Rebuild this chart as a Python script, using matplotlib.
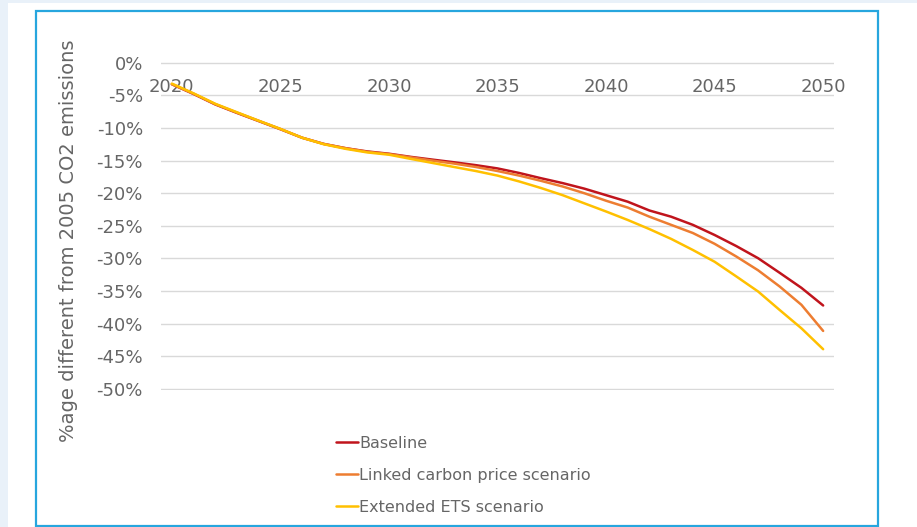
import matplotlib
matplotlib.use("Agg")
import matplotlib.pyplot as plt
from matplotlib.patches import Rectangle
from matplotlib.ticker import FuncFormatter

# values (% change vs 2005 CO2 emissions)
years = list(range(2020, 2051))
baseline = [-3.3, -4.8, -6.4, -7.7, -8.95, -10.2, -11.5, -12.45, -13.1, -13.6,
            -13.95, -14.43, -14.85, -15.26, -15.7, -16.2, -16.9, -17.7, -18.45, -19.3,
            -20.3, -21.3, -22.65, -23.6, -24.85, -26.4, -28.1, -29.95, -32.2, -34.5,
            -37.2]
linked = [-3.3, -4.75, -6.35, -7.65, -8.9, -10.15, -11.5, -12.45, -13.1, -13.65,
          -14.0, -14.5, -15.0, -15.46, -15.98, -16.6, -17.3, -18.1, -18.97, -20.0,
          -21.15, -22.2, -23.6, -24.85, -26.1, -27.75, -29.7, -31.8, -34.3, -37.1,
          -41.1]
extended = [-3.2, -4.7, -6.3, -7.6, -8.9, -10.15, -11.5, -12.5, -13.2, -13.75,
            -14.1, -14.74, -15.36, -15.98, -16.6, -17.3, -18.2, -19.2, -20.3, -21.55,
            -22.8, -24.1, -25.5, -27.0, -28.7, -30.5, -32.75, -35.05, -37.9, -40.7,
            -43.9]
series_names = ["Baseline", "Linked carbon price scenario", "Extended ETS scenario"]
series_colors = ["#c0141c", "#ed7d31", "#ffc000"]
x_ticks = [2020, 2025, 2030, 2035, 2040, 2045, 2050]
y_ticks = list(range(0, -55, -5))

plt.rcParams["font.family"] = ["DejaVu Sans"]
TXT = "#666666"

W, H = 917, 527
fig = plt.figure(figsize=(W / 100, H / 100), dpi=100)
fig.patch.set_facecolor("white")

# page background strips + blue chart frame
fig.add_artist(Rectangle((0, 0), 8 / W, 1, transform=fig.transFigure,
                         facecolor="#e9f1f9", edgecolor="none"))
fig.add_artist(Rectangle((0, 1 - 3 / H), 1, 3 / H, transform=fig.transFigure,
                         facecolor="#e9f1f9", edgecolor="none"))
fig.add_artist(Rectangle((36 / W, 1 - 526 / H), (878 - 36) / W, (526 - 11) / H,
                         transform=fig.transFigure, facecolor="none",
                         edgecolor="#27a6de", linewidth=1.6))

# axes box padded by 1px so the 0% and -50% gridlines are not clipped
ax = fig.add_axes([161 / W, 1 - 390 / H, (834 - 161) / W, (390 - 61.7) / H])
for name, vals, c in zip(series_names, [baseline, linked, extended], series_colors):
    ax.plot(years, vals, color=c, linewidth=1.8, label=name, solid_capstyle="round")

ax.set_xlim(2019.5, 2050.5)
ax.set_ylim(-50.15, 0.15)
ax.set_yticks(y_ticks)
ax.yaxis.set_major_formatter(FuncFormatter(lambda v, _: "0%" if v == 0 else f"{v:.0f}%"))
ax.set_xticks(x_ticks)
ax.tick_params(axis="x", labeltop=True, labelbottom=False, top=False, bottom=False,
               pad=-28, labelsize=13, labelcolor=TXT)
ax.tick_params(axis="y", length=0, pad=13, labelsize=13, labelcolor=TXT)
ax.grid(axis="y", color="#d9d9d9", linewidth=1.0)
ax.set_axisbelow(True)
for s in ax.spines.values():
    s.set_visible(False)

ax.set_ylabel("%age different from 2005 CO2 emissions", fontsize=14, color=TXT)
ax.yaxis.set_label_coords(-0.124, 0.455)

fig.legend(loc="upper left", bbox_to_anchor=(336 / W, 1 - 436 / H), frameon=False,
           fontsize=11.5, labelcolor=TXT, handlelength=1.35, handletextpad=0.1,
           labelspacing=1.05, borderpad=0, borderaxespad=0)

fig.savefig("out.png", dpi=100)
